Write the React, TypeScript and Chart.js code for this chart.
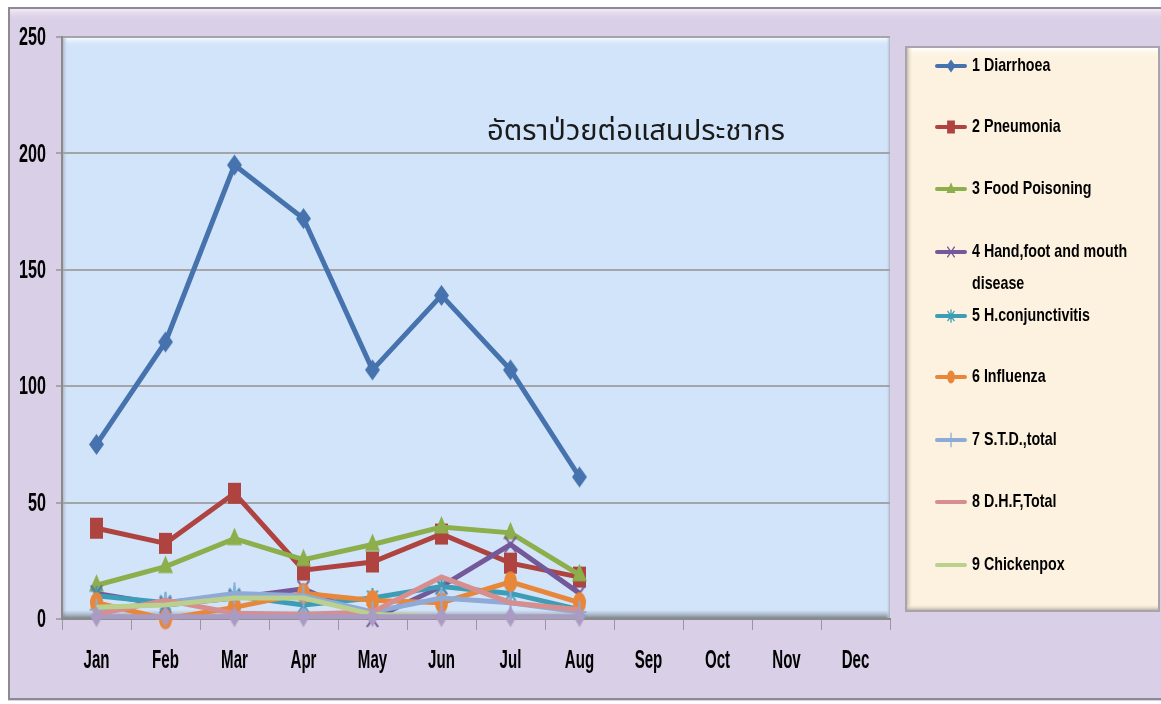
import React, { useEffect, useRef } from "react";
import { Chart, registerables } from "chart.js";

Chart.register(...registerables);

const months = ["Jan", "Feb", "Mar", "Apr", "May", "Jun", "Jul", "Aug", "Sep", "Oct", "Nov", "Dec"];
const yTickValues = [0, 50, 100, 150, 200, 250];
const titleText = "อัตราป่วยต่อแสนประชากร";

const diarrhoea = [75, 119, 195, 172, 107, 139, 107, 61];
const pneumonia = [39, 32.5, 54, 21, 24.5, 36.5, 24, 18];
const foodPoisoning = [14.5, 22.5, 34.5, 25.5, 32, 39.5, 37, 19];
const handFootMouth = [11, 6, 9, 13, 0, 14, 32, 11];
const conjunctivitis = [10, 7, 10, 6, 9, 14, 11, 4];
const influenza = [7, 0, 5, 11, 8, 7, 16, 7];
const stdTotal = [4, 7, 11, 10, 3, 9, 7, 3];
const dhfTotal = [2, 8, 2.5, 2, 3, 18, 7, 4];
const chickenpox = [5, 6, 9, 9, 2, 1, 1, 1];
const otherSeries = [1, 1, 1, 1, 1, 1, 1, 1];

const seriesLabels = [
  "1 Diarrhoea",
  "2 Pneumonia",
  "3 Food Poisoning",
  "4 Hand,foot and mouth|disease",
  "5 H.conjunctivitis",
  "6 Influenza",
  "7 S.T.D.,total",
  "8 D.H.F,Total",
  "9 Chickenpox",
  "",
];
const seriesData = [diarrhoea, pneumonia, foodPoisoning, handFootMouth, conjunctivitis, influenza, stdTotal, dhfTotal, chickenpox, otherSeries];
const seriesColors = ["#4672AE", "#AE433F", "#8CAF4B", "#73589A", "#3E9DB6", "#E8873A", "#8FAAD6", "#D68F8E", "#B9D08F", "#A99BC2"];
const seriesMarkers = ["rectRot", "rect", "triangle", "crossRot", "star", "circle", "cross", "", "", "rectRot"];
const markerSizes = [[15, 21], [13, 21], [15, 22], [14, 20], [14, 20], [13, 21], [14, 22], [0, 0], [0, 0], [12, 21]];

const FONT = "'Liberation Sans', Arial, sans-serif";

function drawShape(ctx: CanvasRenderingContext2D, style: string, cx: number, cy: number, w: number, h: number, color: string, lw: number) {
  const rx = w / 2, ry = h / 2;
  ctx.save();
  ctx.fillStyle = color;
  ctx.strokeStyle = color;
  ctx.lineWidth = lw;
  ctx.beginPath();
  if (style === "rectRot") {
    ctx.moveTo(cx, cy - ry); ctx.lineTo(cx + rx, cy); ctx.lineTo(cx, cy + ry); ctx.lineTo(cx - rx, cy); ctx.closePath(); ctx.fill();
  } else if (style === "rect") {
    ctx.rect(cx - rx, cy - ry, w, h); ctx.fill();
  } else if (style === "triangle") {
    ctx.moveTo(cx, cy - ry); ctx.lineTo(cx + rx, cy + ry * 0.6); ctx.lineTo(cx - rx, cy + ry * 0.6); ctx.closePath(); ctx.fill();
  } else if (style === "circle") {
    ctx.ellipse(cx, cy, rx, ry, 0, 0, Math.PI * 2); ctx.fill();
  } else if (style === "cross") {
    ctx.moveTo(cx, cy - ry); ctx.lineTo(cx, cy + ry); ctx.moveTo(cx - rx, cy); ctx.lineTo(cx + rx, cy); ctx.stroke();
  } else if (style === "crossRot") {
    ctx.moveTo(cx - rx * 0.8, cy - ry * 0.8); ctx.lineTo(cx + rx * 0.8, cy + ry * 0.8);
    ctx.moveTo(cx + rx * 0.8, cy - ry * 0.8); ctx.lineTo(cx - rx * 0.8, cy + ry * 0.8); ctx.stroke();
  } else if (style === "star") {
    ctx.moveTo(cx, cy - ry); ctx.lineTo(cx, cy + ry);
    ctx.moveTo(cx - rx * 0.75, cy - ry * 0.75); ctx.lineTo(cx + rx * 0.75, cy + ry * 0.75);
    ctx.moveTo(cx + rx * 0.75, cy - ry * 0.75); ctx.lineTo(cx - rx * 0.75, cy + ry * 0.75); ctx.stroke();
  }
  ctx.restore();
}

function makeMarker(style: string, w: number, h: number, color: string): any {
  if (!style) return false;
  const c = document.createElement("canvas");
  c.width = w + 4;
  c.height = h + 4;
  const ctx = c.getContext("2d")!;
  drawShape(ctx, style, c.width / 2, c.height / 2, w, h, color, 2);
  return c;
}

function drawSquashed(ctx: CanvasRenderingContext2D, text: string, x: number, y: number, font: string, sx: number, align: "left" | "center" | "right") {
  ctx.save();
  ctx.font = font;
  ctx.textBaseline = "middle";
  ctx.textAlign = "left";
  const w = ctx.measureText(text).width * sx;
  let startX = x;
  if (align === "center") startX = x - w / 2;
  else if (align === "right") startX = x - w;
  ctx.translate(startX, y);
  ctx.scale(sx, 1);
  ctx.fillText(text, 0, 0);
  ctx.restore();
}

const backgroundPlugin = {
  id: "bgPlugin",
  beforeDraw(chart: any) {
    const { ctx, width, height, chartArea } = chart;
    ctx.save();
    ctx.fillStyle = "#ffffff";
    ctx.fillRect(0, 0, width, height);
    ctx.fillStyle = "#D9CFE6";
    ctx.fillRect(8, 7, width - 8, height - 10);
    let g = ctx.createLinearGradient(0, 8, 0, 22);
    g.addColorStop(0, "#F5F0FA");
    g.addColorStop(1, "rgba(217,207,230,0)");
    ctx.fillStyle = g;
    ctx.fillRect(9, 8, width - 9, 14);
    ctx.strokeStyle = "#8E8A93";
    ctx.lineWidth = 2;
    ctx.beginPath();
    ctx.moveTo(width, 8); ctx.lineTo(9, 8); ctx.lineTo(9, height - 5); ctx.lineTo(width, height - 5);
    ctx.stroke();
    const { left, top, right, bottom } = chartArea;
    ctx.fillStyle = "#D2E4FA";
    ctx.fillRect(left, top, right - left, bottom - top);
    g = ctx.createLinearGradient(0, top, 0, top + 10);
    g.addColorStop(0, "#FFFFFF");
    g.addColorStop(1, "rgba(210,228,250,0)");
    ctx.fillStyle = g;
    ctx.fillRect(left, top, right - left, 10);
    g = ctx.createLinearGradient(left, 0, left + 6, 0);
    g.addColorStop(0, "#9FA6B0");
    g.addColorStop(1, "rgba(210,228,250,0)");
    ctx.fillStyle = g;
    ctx.fillRect(left, top, 6, bottom - top);
    g = ctx.createLinearGradient(0, bottom - 9, 0, bottom);
    g.addColorStop(0, "rgba(150,160,170,0)");
    g.addColorStop(1, "#6F7880");
    ctx.fillStyle = g;
    ctx.fillRect(left, bottom - 9, right - left, 9);
    g = ctx.createLinearGradient(right - 4, 0, right, 0);
    g.addColorStop(0, "rgba(210,228,250,0)");
    g.addColorStop(1, "#A9B2BC");
    ctx.fillStyle = g;
    ctx.fillRect(right - 4, top, 4, bottom - top);
    ctx.restore();
  },
  afterDraw(chart: any) {
    const { ctx } = chart;
    const xs = chart.scales.x;
    const ys = chart.scales.y;
    ctx.save();
    ctx.fillStyle = "#000000";
    months.forEach((m, i) => {
      drawSquashed(ctx, m, xs.getPixelForValue(i), 661, "bold 26px " + FONT, 0.58, "center");
    });
    yTickValues.forEach((v) => {
      drawSquashed(ctx, String(v), 46, ys.getPixelForValue(v) + 1, "bold 26px " + FONT, 0.62, "right");
    });

    ctx.fillStyle = "#1A1A1A";
    const tfont = "28px 'Noto Sans Thai', 'Tahoma', 'DejaVu Sans', 'Noto Sans', sans-serif";
    ctx.font = tfont;
    const tw = ctx.measureText(titleText).width;
    drawSquashed(ctx, titleText, 636, 134, tfont, 298 / tw, "center");

    const lx = 907, ly = 48, lw = 251, lh = 562;
    ctx.fillStyle = "#A9A3AE";
    ctx.fillRect(lx - 2, ly - 2, lw + 4, lh + 4);
    ctx.fillStyle = "#FDF2DF";
    ctx.fillRect(lx, ly, lw, lh);
    let g = ctx.createLinearGradient(0, ly, 0, ly + 10);
    g.addColorStop(0, "#FFFFFF");
    g.addColorStop(1, "rgba(253,242,223,0)");
    ctx.fillStyle = g;
    ctx.fillRect(lx, ly, lw, 10);
    g = ctx.createLinearGradient(lx, 0, lx + 6, 0);
    g.addColorStop(0, "#C9BFB0");
    g.addColorStop(1, "rgba(253,242,223,0)");
    ctx.fillStyle = g;
    ctx.fillRect(lx, ly, 6, lh);
    g = ctx.createLinearGradient(0, ly + lh - 6, 0, ly + lh);
    g.addColorStop(0, "rgba(253,242,223,0)");
    g.addColorStop(1, "#BFB5A6");
    ctx.fillStyle = g;
    ctx.fillRect(lx, ly + lh - 6, lw, 6);

    const rowsY = [66, 127, 189, 252, 316, 377, 440, 502, 565];
    for (let i = 0; i < 9; i++) {
      const y = rowsY[i];
      ctx.strokeStyle = seriesColors[i];
      ctx.lineWidth = 4;
      ctx.lineCap = "round";
      ctx.beginPath();
      ctx.moveTo(937, y);
      ctx.lineTo(965, y);
      ctx.stroke();
      const [mw, mh] = markerSizes[i];
      if (seriesMarkers[i]) drawShape(ctx, seriesMarkers[i], 951, y, mw * 0.6, mh * 0.62, seriesColors[i], 1.3);
      const parts = seriesLabels[i].split("|");
      ctx.fillStyle = "#000000";
      parts.forEach((p, k) => drawSquashed(ctx, p, 972, y + k * 32, "bold 19px " + FONT, 0.75, "left"));
    }
    ctx.restore();
  },
};

export default function App() {
  const ref = useRef<HTMLCanvasElement | null>(null);

  useEffect(() => {
    document.body.style.margin = "0";
    if (!ref.current) return;
    const datasets = seriesData.map((d, i) => ({
      label: seriesLabels[i],
      data: d,
      borderColor: seriesColors[i],
      backgroundColor: seriesColors[i],
      pointStyle: makeMarker(seriesMarkers[i], markerSizes[i][0], markerSizes[i][1], seriesColors[i]),
      pointRadius: seriesMarkers[i] ? 10 : 0,
      borderWidth: 5,
      tension: 0,
      order: -i,
      clip: false as any,
    }));
    const chart = new Chart(ref.current, {
      type: "line",
      data: { labels: months, datasets },
      plugins: [backgroundPlugin],
      options: {
        animation: false,
        responsive: false,
        maintainAspectRatio: false,
        layout: { padding: { left: 0, right: 271, top: 37, bottom: 0 } },
        plugins: { legend: { display: false }, tooltip: { enabled: false } },
        scales: {
          x: {
            offset: true,
            grid: { display: true, drawOnChartArea: false, drawTicks: true, tickLength: 11, color: "#9A96A0", lineWidth: 1, offset: true },
            border: { display: true, color: "#8A8A8A", width: 2 },
            ticks: { display: false, autoSkip: false, maxRotation: 0 },
            afterFit: (s: any) => { s.height = 85; },
          },
          y: {
            min: 0,
            max: 250,
            ticks: { stepSize: 50, display: false },
            grid: { color: "#A3A5A8", lineWidth: 2, tickLength: 6 },
            border: { display: true, color: "#8A8A8A", width: 2 },
            afterFit: (s: any) => { s.width = 62; },
          },
        },
      },
    });
    return () => chart.destroy();
  }, []);

  return (
    <div style={{ width: 1161, height: 704 }}>
      <canvas ref={ref} width={1161} height={704} style={{ display: "block", width: 1161, height: 704 }} />
    </div>
  );
}
